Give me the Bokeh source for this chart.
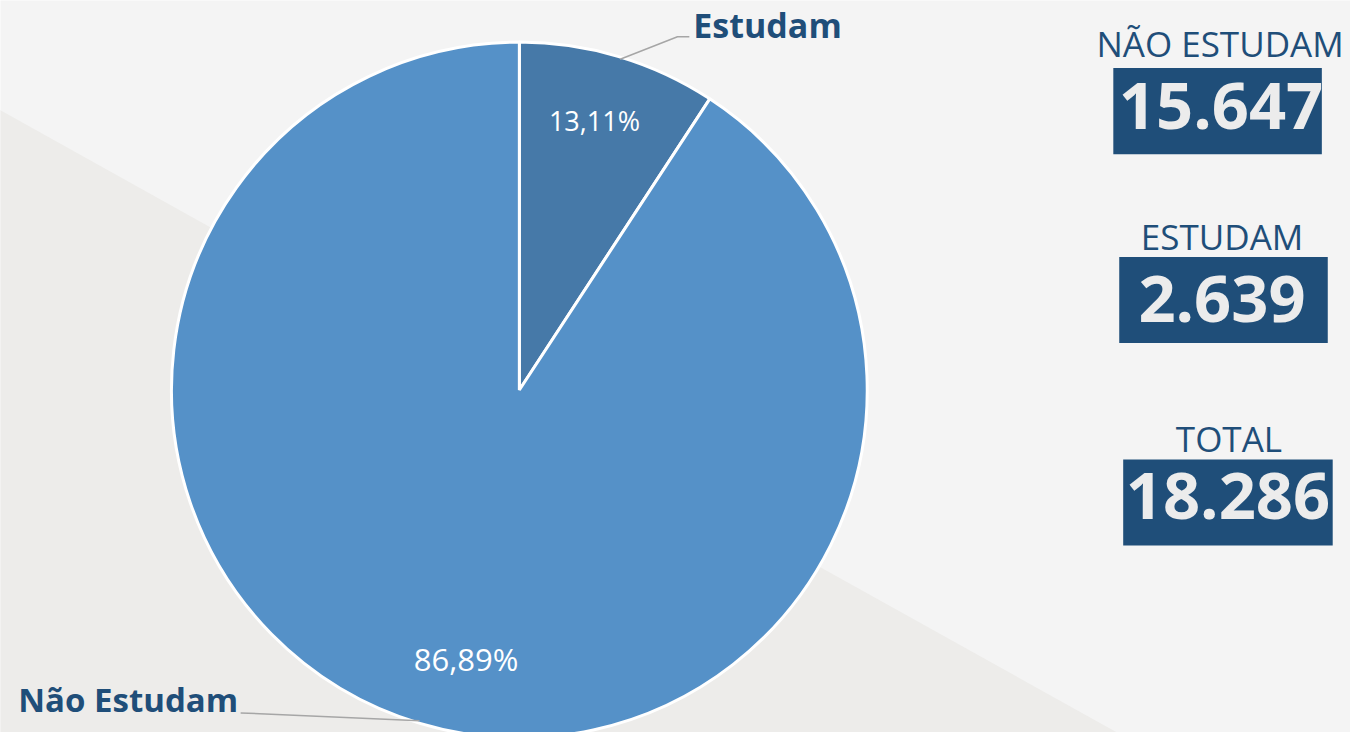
import math
from bokeh.plotting import figure
from bokeh.models import Range1d
from bokeh.core.properties import value
from bokeh.embed import file_html
from bokeh.resources import INLINE

# ---- data ----
categories = ["Estudam", "Não Estudam"]
slice_share = [9.22, 90.78]          # wedge sizes as drawn in the picture (%)
pct_labels = ["13,11%", "86,89%"]
slice_colors = ["#4679a8", "#5591c8"]
card_titles = ["NÃO ESTUDAM", "ESTUDAM", "TOTAL"]
card_values = ["15.647", "2.639", "18.286"]

W, H = 1366, 748
def Y(ry):
    return H - ry

def mid(baseline, size):
    # bokeh's text is placed by its middle; convert an alphabetic baseline
    return Y(baseline - 0.388 * size)

FONT = "Open Sans"
DARK = "#1f4e79"

p = figure(width=1350, height=732, output_backend="svg", toolbar_location=None,
           x_range=Range1d(0, W), y_range=Range1d(0, H), min_border=0)
p.axis.visible = False
p.grid.visible = False
p.outline_line_color = None
p.background_fill_color = "#f4f4f4"
p.border_fill_color = "#f4f4f4"

# background diagonal band
p.patch([-20, 1160, 1160, -20], [Y(101), Y(765), Y(800), Y(800)],
        fill_color="#edecea", line_color=None)

# pie
cx, cy, r = 525, Y(398), 352
start = math.pi / 2
starts, ends = [], []
for s in slice_share:
    e = start - s / 100 * 2 * math.pi
    starts.append(start)
    ends.append(e)
    start = e
p.wedge(x=[cx] * 2, y=[cy] * 2, radius=r, start_angle=starts, end_angle=ends,
        direction="clock", fill_color=slice_colors, line_color="white", line_width=3)

# percent labels
p.text(x=[601], y=[mid(133, 27)], text=pct_labels[:1],
       text_font=value(FONT), text_font_size="27px", text_color="white",
       text_align="center", text_baseline="middle")
p.text(x=[471], y=[mid(685, 31)], text=pct_labels[1:],
       text_font=value(FONT), text_font_size="31px", text_color="white",
       text_align="center", text_baseline="middle")

# category labels with leader lines
p.line([627, 685, 697], [Y(60), Y(37), Y(37)], line_color="#a6a6a6", line_width=1.5)
p.line([243, 424], [Y(728), Y(736)], line_color="#a6a6a6", line_width=1.5)
p.text(x=[701], y=[mid(38, 34)], text=categories[:1],
       text_font=value(FONT), text_font_size="34px", text_font_style="bold",
       text_color=DARK, text_align="left", text_baseline="middle")
p.text(x=[18], y=[mid(727, 33)], text=categories[1:],
       text_font=value(FONT), text_font_size="33px", text_font_style="bold",
       text_color=DARK, text_align="left", text_baseline="middle")

# cards
box_l = [1126, 1132, 1136]
box_r = [1337, 1343, 1348]
box_t = [69, 262, 469]
box_b = [157, 350, 557]
p.quad(left=box_l, right=box_r, top=[Y(t) for t in box_t], bottom=[Y(b) for b in box_b],
       fill_color=DARK, line_color=None)
p.text(x=[1234, 1236, 1243], y=[mid(58, 35), mid(255, 35), mid(461, 35)], text=card_titles,
       text_font=value(FONT), text_font_size="35px", text_color=DARK,
       text_align="center", text_baseline="middle")
p.text(x=[1235, 1236, 1242], y=[mid(133, 65), mid(330, 65), mid(532, 65)], text=card_values,
       text_font=value(FONT), text_font_size="65px", text_font_style="bold",
       text_color="#ececec", text_align="center", text_baseline="middle")

open("out.html", "w").write(file_html(p, INLINE))
